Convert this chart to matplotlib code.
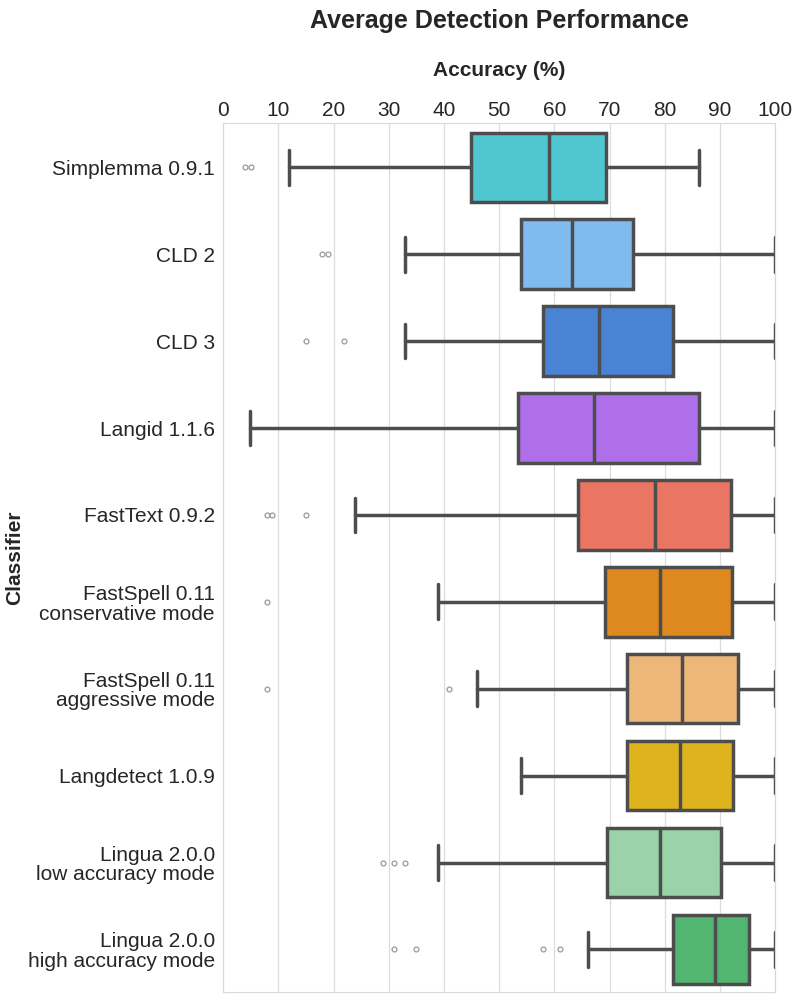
import matplotlib
matplotlib.use('Agg')
import matplotlib.pyplot as plt
import seaborn as sns

# ── data (box statistics per classifier) ──
classifiers = [
    'Simplemma 0.9.1', 'CLD 2', 'CLD 3', 'Langid 1.1.6', 'FastText 0.9.2',
    'FastSpell 0.11\nconservative mode', 'FastSpell 0.11\naggressive mode',
    'Langdetect 1.0.9', 'Lingua 2.0.0\nlow accuracy mode',
    'Lingua 2.0.0\nhigh accuracy mode',
]
q1 = [44.9, 54.0, 57.9, 53.4, 64.3, 69.1, 73.1, 73.1, 69.6, 81.5]
median = [59.1, 63.1, 68.0, 67.1, 78.2, 79.1, 83.1, 82.7, 79.1, 89.1]
q3 = [69.3, 74.2, 81.4, 86.2, 92.0, 92.1, 93.2, 92.3, 90.2, 95.3]
whisker_lo = [11.9, 33.0, 33.0, 4.8, 23.9, 39.0, 46.0, 54.0, 38.9, 66.0]
whisker_hi = [86.2, 100, 100, 100, 100, 100, 100, 100, 100, 100]
outliers = [
    [3.9, 5.0],
    [17.9, 19.0],
    [15.0, 21.9],
    [],
    [7.9, 8.9, 15.0],
    [7.9],
    [7.9, 40.9],
    [],
    [28.9, 30.9, 33.0],
    [31.0, 35.0, 58.0, 61.1],
]
colors = ['#4fc6d0', '#7fbbef', '#4a82d4', '#b06fea', '#e97562',
          '#de8820', '#edb77a', '#deb31e', '#9ad3a8', '#52b570']

sns.set_style('whitegrid')
plt.rcParams['font.family'] = ['Liberation Sans', 'DejaVu Sans']

stats = []
for i in range(len(classifiers)):
    stats.append({'q1': q1[i], 'med': median[i], 'q3': q3[i],
                  'whislo': whisker_lo[i], 'whishi': whisker_hi[i],
                  'fliers': outliers[i]})

line_col = '#4d4d4d'
fig = plt.figure(figsize=(8, 10), dpi=100)
ax = fig.add_axes([0.279, 0.008, 0.69, 0.869])

bp = ax.bxp(stats, positions=range(len(classifiers)), orientation='horizontal',
            widths=0.8, patch_artist=True, showfliers=True,
            boxprops=dict(edgecolor=line_col, linewidth=2.5),
            medianprops=dict(color=line_col, linewidth=2.5),
            whiskerprops=dict(color=line_col, linewidth=2.5),
            capprops=dict(color=line_col, linewidth=2.5),
            flierprops=dict(marker='o', markersize=3.5, markerfacecolor='none',
                            markeredgecolor='#999999', markeredgewidth=0.9))
for box, c in zip(bp['boxes'], colors):
    box.set_facecolor(c)
# seaborn-style caps: half the box width
for cap in bp['caps']:
    yd = cap.get_ydata()
    mid = (yd[0] + yd[1]) / 2
    cap.set_ydata([mid - 0.2, mid + 0.2])

ax.set_xlim(0, 100)
ax.set_ylim(len(classifiers) - 0.51, -0.51)
ax.set_xticks(range(0, 101, 10))
ax.xaxis.tick_top()
ax.xaxis.set_label_position('top')
ax.set_yticks(range(len(classifiers)))
ax.set_yticklabels(classifiers, fontsize=15, ha='right', multialignment='right',
                   linespacing=1.05)
ax.tick_params(axis='x', labelsize=15, pad=2, length=0)
ax.tick_params(axis='y', length=0, pad=6)
ax.grid(axis='y', visible=False)
ax.grid(axis='x', color='#dddddd', linewidth=0.9)
for sp in ax.spines.values():
    sp.set_color('#d9d9d9')

ax.set_xlabel('Accuracy (%)', fontsize=15, fontweight='bold', labelpad=18.5)
ax.set_ylabel('Classifier', fontsize=15, fontweight='bold')
ax.yaxis.set_label_coords(-0.361, 0.5)
fig.text(0.624, 0.979, 'Average Detection Performance', ha='center', va='center',
         fontsize=18, fontweight='bold', color='#262626')

fig.savefig('out.png', dpi=100)
